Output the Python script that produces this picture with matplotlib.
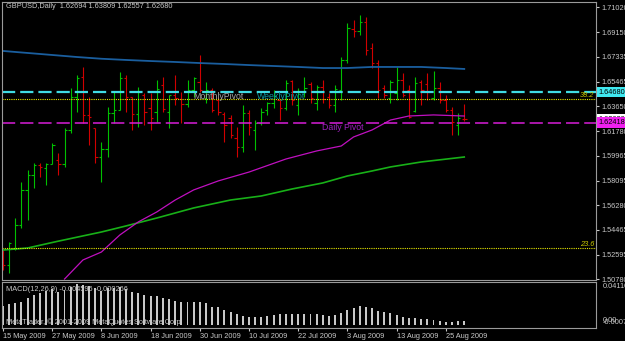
import matplotlib
matplotlib.use("Agg")
import matplotlib.pyplot as plt
from matplotlib import font_manager

plt.rcParams["lines.scale_dashes"] = False
names = {f.name for f in font_manager.fontManager.ttflist}
NARROW = "Liberation Sans Narrow" if "Liberation Sans Narrow" in names else "Liberation Sans"
plt.rcParams["font.family"] = [NARROW, "DejaVu Sans"]

# GBPUSD daily bars, 15 May 2009 .. 28 Aug 2009
opens = [1.5279, 1.5183, 1.5309, 1.5480, 1.5741, 1.5852, 1.5927, 1.5904, 1.5934, 1.5964,
         1.5934, 1.6187, 1.6432, 1.6581, 1.6299, 1.6202, 1.5986, 1.6046, 1.6313, 1.6336,
         1.6574, 1.6432, 1.6306, 1.6447, 1.6351, 1.6321, 1.6522, 1.6321, 1.6447, 1.6418,
         1.6381, 1.6485, 1.6544, 1.6425, 1.6485, 1.6410, 1.6306, 1.6276, 1.6127, 1.6060,
         1.6313, 1.6187, 1.6239, 1.6336, 1.6388, 1.6410, 1.6351, 1.6551, 1.6373, 1.6470,
         1.6529, 1.6388, 1.6507, 1.6432, 1.6373, 1.6485, 1.6708, 1.6938, 1.6924, 1.6990,
         1.6797, 1.6685, 1.6500, 1.6425, 1.6462, 1.6559, 1.6485, 1.6328, 1.6544, 1.6529,
         1.6425, 1.6499, 1.6410, 1.6336, 1.6224, 1.62694]
highs = [1.5294, 1.5354, 1.5532, 1.5800, 1.5889, 1.5941, 1.5941, 1.5941, 1.6090, 1.6016,
         1.6202, 1.6499, 1.6596, 1.6656, 1.6432, 1.6202, 1.6098, 1.6358, 1.6470, 1.6618,
         1.6596, 1.6432, 1.6507, 1.6462, 1.6462, 1.6559, 1.6581, 1.6447, 1.6596, 1.6470,
         1.6559, 1.6581, 1.6745, 1.6544, 1.6499, 1.6432, 1.6321, 1.6299, 1.6209, 1.6373,
         1.6336, 1.6261, 1.6351, 1.6395, 1.6485, 1.6410, 1.6559, 1.6559, 1.6499, 1.6581,
         1.6544, 1.6522, 1.6559, 1.6462, 1.6522, 1.6730, 1.6983, 1.7005, 1.7043, 1.7028,
         1.6834, 1.6708, 1.6522, 1.6559, 1.6656, 1.6611, 1.6522, 1.6581, 1.6559, 1.6611,
         1.6626, 1.6544, 1.6447, 1.6358, 1.6313, 1.63809]
lows = [1.5145, 1.5123, 1.5294, 1.5458, 1.5517, 1.5755, 1.5837, 1.5778, 1.5934, 1.5852,
        1.5912, 1.6165, 1.6321, 1.6239, 1.6075, 1.5941, 1.5800, 1.5986, 1.6239, 1.6336,
        1.6321, 1.6187, 1.6209, 1.6224, 1.6187, 1.6246, 1.6321, 1.6202, 1.6373, 1.6239,
        1.6358, 1.6432, 1.6470, 1.6388, 1.6321, 1.6299, 1.6098, 1.6127, 1.5986, 1.6023,
        1.6150, 1.6038, 1.6224, 1.6299, 1.6351, 1.6261, 1.6336, 1.6373, 1.6299, 1.6432,
        1.6388, 1.6336, 1.6388, 1.6351, 1.6321, 1.6410, 1.6685, 1.6879, 1.6894, 1.6745,
        1.6648, 1.6425, 1.6425, 1.6388, 1.6410, 1.6432, 1.6276, 1.6321, 1.6373, 1.6410,
        1.6410, 1.6388, 1.6321, 1.6150, 1.6150, 1.62557]
closes = [1.5183, 1.5346, 1.5480, 1.5741, 1.5852, 1.5927, 1.5912, 1.5934, 1.6075, 1.5934,
          1.6187, 1.6432, 1.6574, 1.6299, 1.6284, 1.5986, 1.6046, 1.6313, 1.6336, 1.6574,
          1.6432, 1.6306, 1.6470, 1.6321, 1.6276, 1.6492, 1.6343, 1.6447, 1.6425, 1.6381,
          1.6485, 1.6574, 1.6485, 1.6485, 1.6336, 1.6321, 1.6224, 1.6150, 1.6060, 1.6313,
          1.6209, 1.6239, 1.6321, 1.6388, 1.6440, 1.6351, 1.6537, 1.6410, 1.6470, 1.6499,
          1.6425, 1.6507, 1.6418, 1.6373, 1.6492, 1.6708, 1.6946, 1.6924, 1.6990, 1.6782,
          1.6685, 1.6485, 1.6447, 1.6544, 1.6559, 1.6447, 1.6284, 1.6537, 1.6485, 1.6470,
          1.6499, 1.6410, 1.6336, 1.6246, 1.6276, 1.62680]

# moving averages read at a few bars
blue_idx = [0, 4, 8, 12, 16, 20, 24, 28, 32, 36, 40, 44, 48, 52, 56, 60, 64, 68, 72, 75]
blue_ma = [1.6775, 1.6760, 1.6745, 1.6730, 1.6717, 1.6708, 1.6700, 1.6693, 1.6685, 1.6678,
           1.6670, 1.6663, 1.6656, 1.6648, 1.6648, 1.6656, 1.6656, 1.6656, 1.6648, 1.6641]
green_idx = [0, 4, 9, 16, 20, 25, 31, 37, 42, 47, 52, 56, 60, 63, 68, 75]
green_ma = [1.5294, 1.5309, 1.5360, 1.5428, 1.5473, 1.5532, 1.5607, 1.5666, 1.5696, 1.5748,
            1.5793, 1.5845, 1.5882, 1.5912, 1.5949, 1.5986]
magenta_idx = [10, 13, 16, 19, 22, 25, 28, 31, 35, 40, 46, 51, 55, 57, 60, 63, 66, 70, 75]
magenta_ma = [1.5078, 1.5220, 1.5279, 1.5406, 1.5503, 1.5577, 1.5666, 1.5741, 1.5808, 1.5874,
              1.5971, 1.6031, 1.6068, 1.6135, 1.6187, 1.6261, 1.6291, 1.6299, 1.6291]

monthly_pivot = 1.64680
daily_pivot = 1.62418
last_price = 1.62680
fib_levels = [1.6415, 1.5309]
fib_labels = ["38.2", "23.6"]

price_ticks = [1.71020, 1.69150, 1.67335, 1.65465, 1.63650, 1.61780, 1.59965,
               1.58095, 1.56280, 1.54465, 1.52595, 1.50780]

macd_hist = [0.0191, 0.0211, 0.0221, 0.0231, 0.0271, 0.0301, 0.0321, 0.0341, 0.0361, 0.0331,
             0.0351, 0.0381, 0.0411, 0.0401, 0.0391, 0.0371, 0.0341, 0.0371, 0.0371, 0.0381,
             0.0361, 0.0331, 0.0321, 0.0301, 0.0291, 0.0291, 0.0271, 0.0261, 0.0241, 0.0231,
             0.0231, 0.0231, 0.0231, 0.0221, 0.0181, 0.0181, 0.0150, 0.0130, 0.0110, 0.0090,
             0.0080, 0.0080, 0.0080, 0.0090, 0.0100, 0.0110, 0.0110, 0.0110, 0.0110, 0.0110,
             0.0110, 0.0110, 0.0100, 0.0090, 0.0100, 0.0120, 0.0150, 0.0171, 0.0191, 0.0181,
             0.0171, 0.0140, 0.0130, 0.0120, 0.0100, 0.0080, 0.0070, 0.0070, 0.0060, 0.0060,
             0.0050, 0.0040, 0.0030, 0.0030, 0.0040, 0.0046]

date_ticks = [0, 8, 16, 24, 32, 40, 48, 56, 64, 72]
date_labels = ["15 May 2009", "27 May 2009", "8 Jun 2009", "18 Jun 2009", "30 Jun 2009",
               "10 Jul 2009", "22 Jul 2009", "3 Aug 2009", "13 Aug 2009", "25 Aug 2009"]

W, H = 625, 341
BG = "black"
FG = "#c8c8c8"
FS = 6.3 if NARROW.endswith("Narrow") else 5.3

fig = plt.figure(figsize=(W / 100, H / 100), dpi=100, facecolor=BG)


def frac(x0, y0, x1, y1):
    return [x0 / W, 1 - y1 / H, (x1 - x0) / W, (y1 - y0) / H]


ax = fig.add_axes(frac(2, 2, 596, 280), facecolor=BG)
ax2 = fig.add_axes(frac(2, 282, 596, 328), facecolor=BG)

xlim = (-1 / 6.15, 593 / 6.15)
for a in (ax, ax2):
    a.set_xlim(*xlim)
    for s in a.spines.values():
        s.set_color("#9a9a9a")
        s.set_linewidth(0.8)

ax.set_ylim(1.50709, 1.71392)

# OHLC bars
n = len(opens)
for i in range(n):
    col = "#00c000" if closes[i] >= opens[i] else "#d00000"
    ax.vlines(i, lows[i], highs[i], color=col, lw=0.8)
    ax.hlines(opens[i], i - 0.38, i, color=col, lw=0.8)
    ax.hlines(closes[i], i, i + 0.38, color=col, lw=0.8)

ax.plot(blue_idx, blue_ma, color="#1a5e9e", lw=1.3)
ax.plot(green_idx, green_ma, color="#18b018", lw=1.2)
ax.plot(magenta_idx, magenta_ma, color="#c010c0", lw=0.9)

ax.axhline(monthly_pivot, color="#40dce4", lw=1.6, dashes=(9.5, 3.6))
ax.axhline(daily_pivot, color="#d81ed8", lw=1.1, dashes=(9.5, 3.6))
for lvl, lab in zip(fib_levels, fib_labels):
    ax.axhline(lvl, color="#e8e800", lw=0.8, dashes=(0.8, 0.8))
    ax.text(96.2, lvl, lab, color="#c8c800", fontsize=FS, ha="right", va="bottom",
            style="italic")

ax.text(30.9, monthly_pivot, "MonthlyPivot", color="#a8a8a8", fontsize=FS + 1, va="top")
ax.text(41.3, monthly_pivot, "WeeklyPivot", color="#0a9aa0", fontsize=FS + 1, va="top")
ax.text(51.8, daily_pivot, "Daily Pivot", color="#a020c0", fontsize=FS + 1, va="top")

ax.yaxis.tick_right()
ax.set_yticks(price_ticks)
ax.set_yticklabels([f"{t:.5f}" for t in price_ticks])
ax.tick_params(axis="y", colors=FG, labelsize=FS, length=2, pad=2)
ax.set_xticks([])

ytr = ax.get_yaxis_transform()
ax.text(1.004, last_price, f"{last_price:.5f}", transform=ytr, fontsize=FS, color="black",
        va="center", ha="left", clip_on=False,
        bbox=dict(facecolor="white", edgecolor="none", pad=1.2))
ax.text(1.004, monthly_pivot, f"{monthly_pivot:.5f}", transform=ytr, fontsize=FS,
        color="black", va="center", ha="left", clip_on=False,
        bbox=dict(facecolor="#40e8f0", edgecolor="none", pad=1.2))
ax.text(1.004, daily_pivot, f"{daily_pivot:.5f}", transform=ytr, fontsize=FS,
        color="black", va="center", ha="left", clip_on=False,
        bbox=dict(facecolor="#f020f0", edgecolor="none", pad=1.2))

# MACD panel
ax2.set_ylim(-0.00248, 0.04307)
ax2.bar(range(n), macd_hist, width=0.32, color="#c8c8c8", linewidth=0)
ax2.yaxis.tick_right()
ax2.set_yticks([])
ax2.set_xticks(date_ticks)
ax2.set_xticklabels(date_labels, ha="left")
ax2.tick_params(axis="x", colors=FG, labelsize=FS, length=2, pad=1.5)
atr = ax2.transAxes
ax2.text(1.012, 0.913, "0.041104", transform=atr, color=FG, fontsize=FS, va="center",
         clip_on=False)
ax2.text(1.012, 0.17, "0.00", transform=atr, color=FG, fontsize=FS, va="center",
         clip_on=False)
ax2.text(1.012, 0.11, "-0.000719", transform=atr, color=FG, fontsize=FS, va="center",
         clip_on=False)
ax2.text(0.006, 0.84, "MACD(12,26,9) -0.004595 -0.000266", transform=atr, color=FG,
         fontsize=FS, va="center")
ax2.text(0.006, 0.13, "MetaTrader, \u00a9 2001-2009 MetaQuotes Software Corp.",
         transform=atr, color=FG, fontsize=FS, va="center")

fig.text(6 / W, 1 - 7 / H, "GBPUSD,Daily  1.62694 1.63809 1.62557 1.62680", color=FG,
         fontsize=FS, va="center")

fig.savefig("out.png", dpi=100, facecolor=BG)
plt.close(fig)
